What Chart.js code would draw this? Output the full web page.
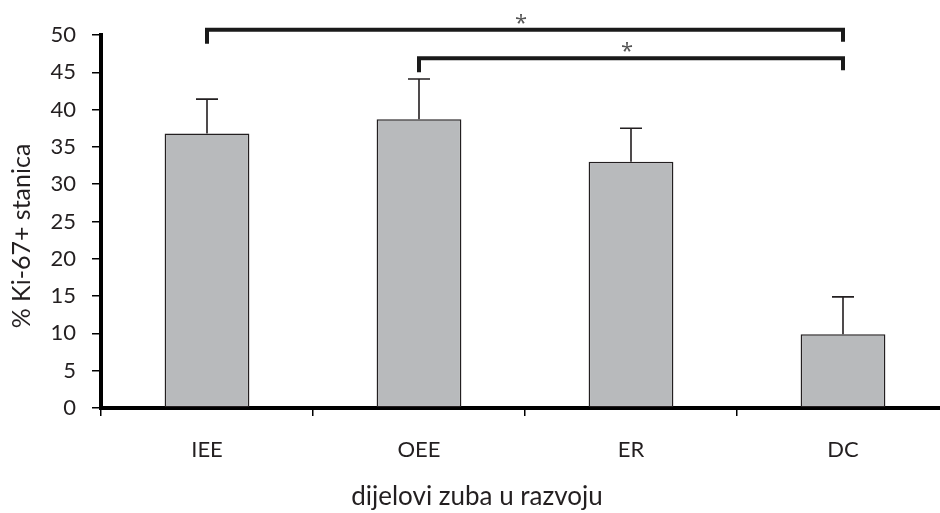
<!DOCTYPE html>
<html>
<head>
<meta charset="utf-8">
<script src="https://cdn.jsdelivr.net/npm/chart.js@4/dist/chart.umd.min.js"></script>
<style>
html,body{margin:0;padding:0;background:#fff;overflow:hidden;width:940px;height:513px;}
canvas{display:block;}
</style>
</head>
<body>
<canvas id="c" width="950" height="513"></canvas>
<script>
const categories = ['IEE', 'OEE', 'ER', 'DC'];
const meanValues = [36.8, 38.7, 33.0, 9.9];
const errorValues = [4.6, 5.4, 4.5, 5.0];
const yMin = 0, yMax = 50, yStep = 5;
const bracketFrom = [0, 1];
const bracketTo = [3, 3];
const bracketLevel = [50.7, 46.9];
const bracketLabel = ['*', '*'];
const yTitle = '% Ki-67+ stanica';
const xTitle = 'dijelovi zuba u razvoju';

const FONT = "Lato, 'Open Sans', sans-serif";
const TXT = '#231f20';

const overlay = {
  id: 'overlay',
  afterDatasetsDraw(chart) {
    const ctx = chart.ctx;
    const xs = chart.scales.x, ys = chart.scales.y;
    const meta = chart.getDatasetMeta(0);
    ctx.save();
    ctx.strokeStyle = '#231f20';
    ctx.lineWidth = 1.6;
    meta.data.forEach((bar, i) => {
      const x = bar.x;
      const yb = ys.getPixelForValue(meanValues[i]);
      const yt = ys.getPixelForValue(meanValues[i] + errorValues[i]);
      ctx.beginPath();
      ctx.moveTo(x, yb);
      ctx.lineTo(x, yt);
      ctx.moveTo(x - 11, yt);
      ctx.lineTo(x + 11, yt);
      ctx.stroke();
    });
    ctx.strokeStyle = '#1a1a1a';
    ctx.lineWidth = 4;
    ctx.lineCap = 'butt';
    for (let k = 0; k < bracketFrom.length; k++) {
      const x1 = xs.getPixelForValue(bracketFrom[k]);
      const x2 = xs.getPixelForValue(bracketTo[k]);
      const y = ys.getPixelForValue(bracketLevel[k]);
      ctx.beginPath();
      ctx.moveTo(x1, y + 14);
      ctx.lineTo(x1, y);
      ctx.lineTo(x2, y);
      ctx.lineTo(x2, y + 12);
      ctx.stroke();
      ctx.fillStyle = '#555';
      ctx.font = "22px 'Open Sans', sans-serif";
      ctx.textAlign = 'center';
      ctx.textBaseline = 'middle';
      ctx.fillText(bracketLabel[k], (x1 + x2) / 2 - 4, y - 6);
    }
    // axis titles
    ctx.fillStyle = TXT;
    ctx.font = "26px " + FONT;
    ctx.textAlign = 'center';
    ctx.textBaseline = 'alphabetic';
    ctx.fillText(xTitle, 477, 505);
    ctx.translate(22, 236);
    ctx.rotate(-Math.PI / 2);
    ctx.font = "25px " + FONT;
    ctx.textBaseline = 'middle';
    ctx.fillText(yTitle, 0, 0);
    ctx.restore();
  }
};

new Chart(document.getElementById('c'), {
  type: 'bar',
  data: {
    labels: categories,
    datasets: [{
      data: meanValues,
      backgroundColor: '#b8babc',
      borderColor: '#231f20',
      borderWidth: 1.5,
      borderSkipped: false,
      barPercentage: 0.4,
      categoryPercentage: 1.0
    }]
  },
  options: {
    responsive: false,
    animation: false,
    devicePixelRatio: 1,
    layout: { padding: { top: 35, right: 1, left: 0, bottom: 0 } },
    plugins: { legend: { display: false }, tooltip: { enabled: false } },
    scales: {
      x: {
        offset: true,
        grid: { display: true, offset: true, drawOnChartArea: false, drawTicks: true, tickLength: 8, lineWidth: 1.5, color: '#000' },
        border: { display: true, width: 4, color: '#000' },
        ticks: { color: TXT, font: { family: FONT, size: 22 }, padding: 21, maxRotation: 0 },
        afterFit(scale) { scale.height = 105; }
      },
      y: {
        min: yMin, max: yMax,
        ticks: { stepSize: yStep, color: TXT, font: { family: FONT, size: 22 }, padding: 16 },
        grid: { display: true, drawOnChartArea: false, drawTicks: true, tickLength: 9, lineWidth: 1.5, color: '#000' },
        border: { display: true, width: 4, color: '#000' },
        afterFit(scale) { scale.width = 101; }
      }
    }
  },
  plugins: [overlay]
});
</script>
</body>
</html>
